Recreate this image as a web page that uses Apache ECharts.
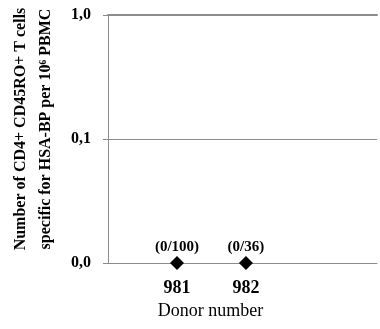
<!DOCTYPE html>
<html><head><meta charset="utf-8">
<script src="https://cdn.jsdelivr.net/npm/echarts@6/dist/echarts.min.js"></script>
<style>html,body{margin:0;padding:0;background:#fff}#c{width:380px;height:329px}</style>
</head><body><div id="c"></div>
<script>
const donors = [981, 982];
const values = [0, 0];
const ratios = ['(0/100)', '(0/36)'];
const yTicks = [0.01, 0.1, 1];
const yName = 'Number of CD4+ CD45RO+ T cells\nspecific for HSA-BP per 10\u2076 PBMC';
const xName = 'Donor number';

const yMin = yTicks[0], yMax = yTicks[yTicks.length - 1];
const font = '"Liberation Serif","Times New Roman",serif';
const grey = '#8c8c8c';

const chart = echarts.init(document.getElementById('c'), null, {renderer: 'canvas'});
chart.setOption({
  animation: false,
  backgroundColor: '#fff',
  grid: {left: 106, right: 1, top: 15, bottom: 66, containLabel: false},
  xAxis: [{
    type: 'value', min: 980, max: 983.9, interval: 1,
    axisLine: {show: true, lineStyle: {color: grey, width: 1}},
    axisTick: {show: false},
    splitLine: {show: false},
    axisLabel: {
      fontFamily: font, fontWeight: 'bold', fontSize: 18, color: '#000', margin: 16,
      formatter: v => donors.indexOf(v) >= 0 ? String(v) : ''
    },
    name: xName, nameLocation: 'middle', nameGap: 35,
    nameTextStyle: {fontFamily: font, fontSize: 18, color: '#000', padding: [0, 64, 0, 0]}
  }, {
    type: 'value', min: 980, max: 983.9, position: 'top',
    axisLine: {show: true, lineStyle: {color: grey, width: 2}},
    axisTick: {show: false}, axisLabel: {show: false}, splitLine: {show: false}
  }],
  yAxis: {
    type: 'log', logBase: 10, min: yMin, max: yMax,
    axisLine: {show: true, lineStyle: {color: grey, width: 1}},
    axisTick: {show: true, length: 5, lineStyle: {color: grey}},
    splitLine: {show: true, lineStyle: {color: grey, width: 1}},
    minorTick: {show: false},
    axisLabel: {
      fontFamily: font, fontWeight: 'bold', fontSize: 16, color: '#000', margin: 17,
      formatter: v => v.toFixed(1).replace('.', ',')
    },
    name: yName, nameLocation: 'middle', nameGap: 50, nameRotate: 90,
    nameTextStyle: {fontFamily: font, fontWeight: 'bold', fontSize: 16, color: '#000', lineHeight: 25, padding: [0, 0, 0, 20]}
  },
  series: [{
    type: 'scatter',
    symbol: 'diamond', symbolSize: 14,
    itemStyle: {color: '#000', opacity: 1},
    data: donors.map((d, i) => ({value: [d, values[i] > 0 ? values[i] : yMin], ratio: ratios[i]})),
    label: {
      show: true, position: 'top', distance: 1,
      fontFamily: font, fontWeight: 'bold', fontSize: 15, color: '#000',
      formatter: p => p.data.ratio
    }
  }]
});
</script></body></html>
